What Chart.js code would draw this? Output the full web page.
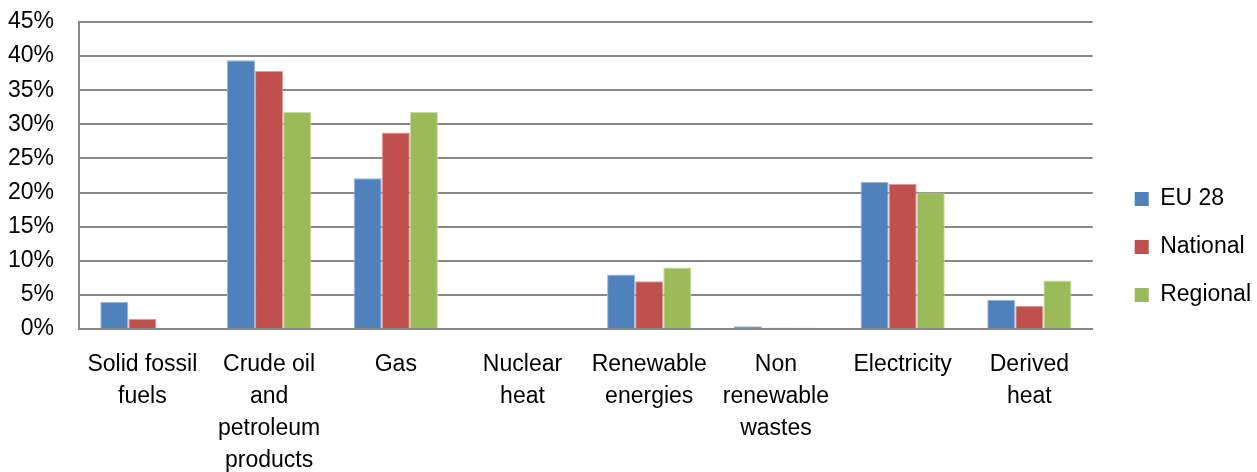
<!DOCTYPE html>
<html>
<head>
<meta charset="utf-8">
<script src="https://cdn.jsdelivr.net/npm/chart.js@4/dist/chart.umd.min.js"></script>
<style>
  html, body { margin: 0; padding: 0; background: #fff; }
  #wrap { width: 1257px; height: 472px; }
</style>
</head>
<body>
<div id="wrap"><canvas id="energyChart" width="1257" height="472"></canvas></div>
<script>
// =====================
//  DATA
// =====================
const CATEGORIES = [
    ["Solid fossil", "fuels"],
    ["Crude oil", "and", "petroleum", "products"],
    ["Gas"],
    ["Nuclear", "heat"],
    ["Renewable", "energies"],
    ["Non", "renewable", "wastes"],
    ["Electricity"],
    ["Derived", "heat"]
];

const EU28     = [4.0, 39.4, 22.1, 0, 8.0, 0.4, 21.6, 4.3];
const NATIONAL = [1.5, 37.8, 28.8, 0, 7.0, 0.2, 21.3, 3.4];
const REGIONAL = [0,   31.8, 31.8, 0, 9.0, 0.2, 20.0, 7.1];

const Y_MAX = 45;
const Y_STEP = 5;

const FONT = "'Liberation Sans', Arial, sans-serif";
const GRID = "#898989";

// legend sits a bit further from the plot than chart.js puts it
const LEGEND_EXTRA = 13;
const LEGEND_SHIFT = 17;

// =====================
//  BAR CHART
// =====================
const ctx = document.getElementById("energyChart").getContext("2d");

const chart = new Chart(ctx, {
    type: "bar",
    data: {
        labels: CATEGORIES,
        datasets: [
            { label: "EU 28",    data: EU28,     backgroundColor: "#4F81BD", borderColor: "#9DB9DC" },
            { label: "National", data: NATIONAL, backgroundColor: "#C0504D", borderColor: "#DC9C9A" },
            { label: "Regional", data: REGIONAL, backgroundColor: "#9BBB59", borderColor: "#C8DBA0" }
        ]
    },
    options: {
        responsive: false,
        animation: false,
        layout: { padding: { top: 22, right: 0, left: 0, bottom: 0 } },
        datasets: {
            bar: { categoryPercentage: 0.665, barPercentage: 1.0, borderWidth: 1 }
        },
        plugins: {
            legend: {
                position: "right",
                labels: {
                    boxWidth: 14,
                    boxHeight: 14,
                    padding: 25,
                    color: "#000",
                    font: { family: FONT, size: 23 },
                    // plain squares, no light outline in the legend
                    generateLabels: (c) => c.data.datasets.map((ds, i) => ({
                        text: ds.label,
                        fillStyle: ds.backgroundColor,
                        strokeStyle: ds.backgroundColor,
                        lineWidth: 0,
                        fontColor: "#000",
                        hidden: false,
                        datasetIndex: i
                    }))
                }
            },
            tooltip: { enabled: false }
        },
        scales: {
            x: {
                grid: { display: false },
                border: { color: GRID, width: 2 },
                afterFit: (scale) => { scale.height = 143; },   // keep plot bottom at 0% line
                ticks: {
                    color: "#000",
                    maxRotation: 0,
                    autoSkip: false,
                    padding: 12,
                    font: { family: FONT, size: 23, lineHeight: 32 / 23 }
                }
            },
            y: {
                min: 0,
                max: Y_MAX,
                grid: { color: GRID, lineWidth: 2, drawTicks: false },
                border: { color: GRID, width: 2 },
                afterFit: (scale) => {
                    scale.width = 79;
                    scale.paddingTop = 0;
                    scale.paddingBottom = 0;
                },
                ticks: {
                    stepSize: Y_STEP,
                    color: "#000",
                    padding: 25,
                    font: { family: FONT, size: 23 },
                    callback: (v) => v + "%"
                }
            }
        }
    }
});

// widen the legend box and push its items right
const legendFit = chart.legend.fit;
chart.legend.fit = function () {
    legendFit.call(this);
    this.width += LEGEND_EXTRA;
};
const legendDraw = chart.legend.draw;
chart.legend.draw = function () {
    this.ctx.save();
    this.ctx.translate(LEGEND_SHIFT, 0);
    legendDraw.call(this);
    this.ctx.restore();
};
chart.update();
</script>
</body>
</html>
